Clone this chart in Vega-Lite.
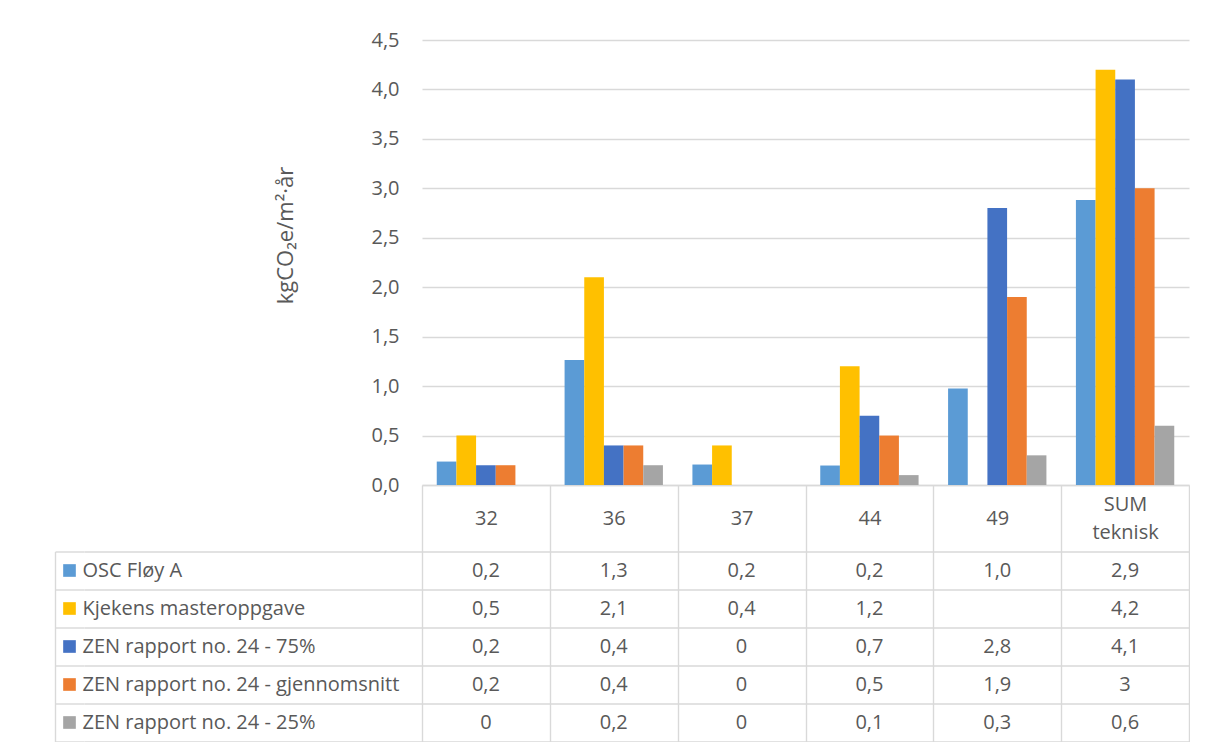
{
  "$schema": "https://vega.github.io/schema/vega-lite/v6.json",
  "background": "white",
  "padding": {"left": 55, "top": 30, "right": 0, "bottom": 0},
  "config": {
    "locale": {"number": {"decimal": ",", "thousands": " ", "grouping": [3], "currency": ["", " kr"]}},
    "font": "Open Sans",
    "view": {"stroke": null},
    "axis": {
      "labelFont": "Open Sans",
      "titleFont": "Open Sans",
      "labelColor": "#595959",
      "titleColor": "#595959",
      "labelFontSize": 20,
      "gridColor": "#d9d9d9",
      "domainColor": "#d9d9d9",
      "tickColor": "#d9d9d9",
      "gridWidth": 1.4,
      "domainWidth": 1.4,
      "tickWidth": 1.4
    }
  },
  "datasets": {
    "none": [],
    "rows": [
      {"cat": "32", "series": "OSC Fløy A", "v": 0.237},
      {"cat": "36", "series": "OSC Fløy A", "v": 1.265},
      {"cat": "37", "series": "OSC Fløy A", "v": 0.207},
      {"cat": "44", "series": "OSC Fløy A", "v": 0.197},
      {"cat": "49", "series": "OSC Fløy A", "v": 0.975},
      {"cat": "SUM teknisk", "series": "OSC Fløy A", "v": 2.881},
      {"cat": "32", "series": "Kjekens masteroppgave", "v": 0.5},
      {"cat": "36", "series": "Kjekens masteroppgave", "v": 2.1},
      {"cat": "37", "series": "Kjekens masteroppgave", "v": 0.4},
      {"cat": "44", "series": "Kjekens masteroppgave", "v": 1.2},
      {"cat": "49", "series": "Kjekens masteroppgave", "v": null},
      {"cat": "SUM teknisk", "series": "Kjekens masteroppgave", "v": 4.2},
      {"cat": "32", "series": "ZEN rapport no. 24 - 75%", "v": 0.2},
      {"cat": "36", "series": "ZEN rapport no. 24 - 75%", "v": 0.4},
      {"cat": "37", "series": "ZEN rapport no. 24 - 75%", "v": 0},
      {"cat": "44", "series": "ZEN rapport no. 24 - 75%", "v": 0.7},
      {"cat": "49", "series": "ZEN rapport no. 24 - 75%", "v": 2.8},
      {"cat": "SUM teknisk", "series": "ZEN rapport no. 24 - 75%", "v": 4.1},
      {"cat": "32", "series": "ZEN rapport no. 24 - gjennomsnitt", "v": 0.2},
      {"cat": "36", "series": "ZEN rapport no. 24 - gjennomsnitt", "v": 0.4},
      {"cat": "37", "series": "ZEN rapport no. 24 - gjennomsnitt", "v": 0},
      {"cat": "44", "series": "ZEN rapport no. 24 - gjennomsnitt", "v": 0.5},
      {"cat": "49", "series": "ZEN rapport no. 24 - gjennomsnitt", "v": 1.9},
      {"cat": "SUM teknisk", "series": "ZEN rapport no. 24 - gjennomsnitt", "v": 3},
      {"cat": "32", "series": "ZEN rapport no. 24 - 25%", "v": 0},
      {"cat": "36", "series": "ZEN rapport no. 24 - 25%", "v": 0.2},
      {"cat": "37", "series": "ZEN rapport no. 24 - 25%", "v": 0},
      {"cat": "44", "series": "ZEN rapport no. 24 - 25%", "v": 0.1},
      {"cat": "49", "series": "ZEN rapport no. 24 - 25%", "v": 0.3},
      {"cat": "SUM teknisk", "series": "ZEN rapport no. 24 - 25%", "v": 0.6}
    ]
  },
  "data": {"name": "rows"},
  "columns": 3,
  "spacing": {"row": 66.5, "column": 0},
  "bounds": "flush",
  "resolve": {"scale": {"x": "independent", "y": "independent", "color": "shared"}},
  "concat": [
    {"width": 29, "height": 445, "data": {"name": "none"}, "mark": {"type": "point", "opacity": 0}},
    {"width": 338, "height": 445, "data": {"name": "none"}, "mark": {"type": "point", "opacity": 0}},
    {
      "width": 767,
      "height": 445,
      "mark": {"type": "bar"},
      "encoding": {
        "x": {
          "field": "cat", "type": "nominal", "sort": null,
          "scale": {"domain": ["32", "36", "37", "44", "49", "SUM teknisk"], "paddingInner": 0, "paddingOuter": 0},
          "axis": {
            "title": null, "labelAngle": 0, "grid": false, "domain": true,
            "ticks": true, "tickBand": "extent", "tickSize": 66.5,
            "labelPadding": -33.5, "labelLineHeight": 28,
            "labelBaseline": {"condition": {"test": "datum.value == 'SUM teknisk'", "value": "line-bottom"}, "value": "middle"},
            "labelExpr": "datum.value == 'SUM teknisk' ? ['SUM', 'teknisk'] : datum.value"
          }
        },
        "xOffset": {
          "field": "series", "type": "nominal", "sort": null,
          "scale": {"domain": ["OSC Fløy A", "Kjekens masteroppgave", "ZEN rapport no. 24 - 75%", "ZEN rapport no. 24 - gjennomsnitt", "ZEN rapport no. 24 - 25%"], "paddingInner": 0, "paddingOuter": 0.75}
        },
        "y": {
          "field": "v", "type": "quantitative",
          "scale": {"domain": [0, 4.5], "nice": false},
          "axis": {
            "title": "kgCO₂e/m²·år", "titleFontSize": 22, "titleFontWeight": "normal",
            "titleAngle": -90, "titleX": -125, "titleY": 195, "titleBaseline": "bottom", "titleAlign": "center",
            "values": [0, 0.5, 1, 1.5, 2, 2.5, 3, 3.5, 4, 4.5], "format": ".1f",
            "domain": false, "ticks": false, "labelPadding": 23, "grid": true
          }
        },
        "color": {
          "field": "series", "type": "nominal",
          "scale": {
            "domain": ["OSC Fløy A", "Kjekens masteroppgave", "ZEN rapport no. 24 - 75%", "ZEN rapport no. 24 - gjennomsnitt", "ZEN rapport no. 24 - 25%"],
            "range": ["#5b9bd5", "#ffc000", "#4472c4", "#ed7d31", "#a5a5a5"]
          },
          "legend": null
        }
      }
    },
    {
      "width": 29,
      "height": 190,
      "transform": [{"filter": "datum.cat == 'SUM teknisk'"}],
      "mark": {"type": "square", "size": 160, "opacity": 1},
      "encoding": {
        "y": {
          "field": "series", "type": "nominal", "sort": null,
          "scale": {"domain": ["OSC Fløy A", "Kjekens masteroppgave", "ZEN rapport no. 24 - 75%", "ZEN rapport no. 24 - gjennomsnitt", "ZEN rapport no. 24 - 25%"], "paddingInner": 0, "paddingOuter": 0},
          "axis": {"title": null, "labels": false, "ticks": false, "domain": true, "grid": true, "tickBand": "extent"}
        },
        "color": {"field": "series", "type": "nominal", "legend": null}
      }
    },
    {
      "width": 338,
      "height": 190,
      "transform": [{"filter": "datum.cat == 'SUM teknisk'"}],
      "mark": {"type": "point", "opacity": 0},
      "encoding": {
        "y": {
          "field": "series", "type": "nominal", "sort": null,
          "scale": {"domain": ["OSC Fløy A", "Kjekens masteroppgave", "ZEN rapport no. 24 - 75%", "ZEN rapport no. 24 - gjennomsnitt", "ZEN rapport no. 24 - 25%"], "paddingInner": 0, "paddingOuter": 0},
          "axis": {"title": null, "labels": true, "labelAlign": "left", "labelPadding": 2, "labelLimit": 400, "ticks": false, "domain": false, "grid": true, "tickBand": "extent"}
        }
      }
    },
    {
      "width": 767,
      "height": 190,
      "encoding": {
        "x": {
          "field": "cat", "type": "nominal", "sort": null,
          "scale": {"domain": ["32", "36", "37", "44", "49", "SUM teknisk"], "paddingInner": 0, "paddingOuter": 0},
          "axis": {"title": null, "labels": false, "ticks": false, "domain": false, "grid": true, "tickBand": "extent"}
        },
        "y": {
          "field": "series", "type": "nominal", "sort": null,
          "scale": {"domain": ["OSC Fløy A", "Kjekens masteroppgave", "ZEN rapport no. 24 - 75%", "ZEN rapport no. 24 - gjennomsnitt", "ZEN rapport no. 24 - 25%"], "paddingInner": 0, "paddingOuter": 0},
          "axis": {"title": null, "labels": false, "ticks": false, "domain": false, "grid": true, "tickBand": "extent"}
        }
      },
      "layer": [
        {
          "transform": [{"filter": "datum.series == 'OSC Fløy A'"}],
          "mark": {"type": "text", "fontSize": 20, "color": "#595959", "font": "Open Sans"},
          "encoding": {"text": {"field": "v", "type": "quantitative", "format": ".1f"}}
        },
        {
          "transform": [{"filter": "datum.series != 'OSC Fløy A' && datum.v != null"}],
          "mark": {"type": "text", "fontSize": 20, "color": "#595959", "font": "Open Sans"},
          "encoding": {"text": {"field": "v", "type": "quantitative", "format": "~g"}}
        }
      ]
    }
  ]
}
